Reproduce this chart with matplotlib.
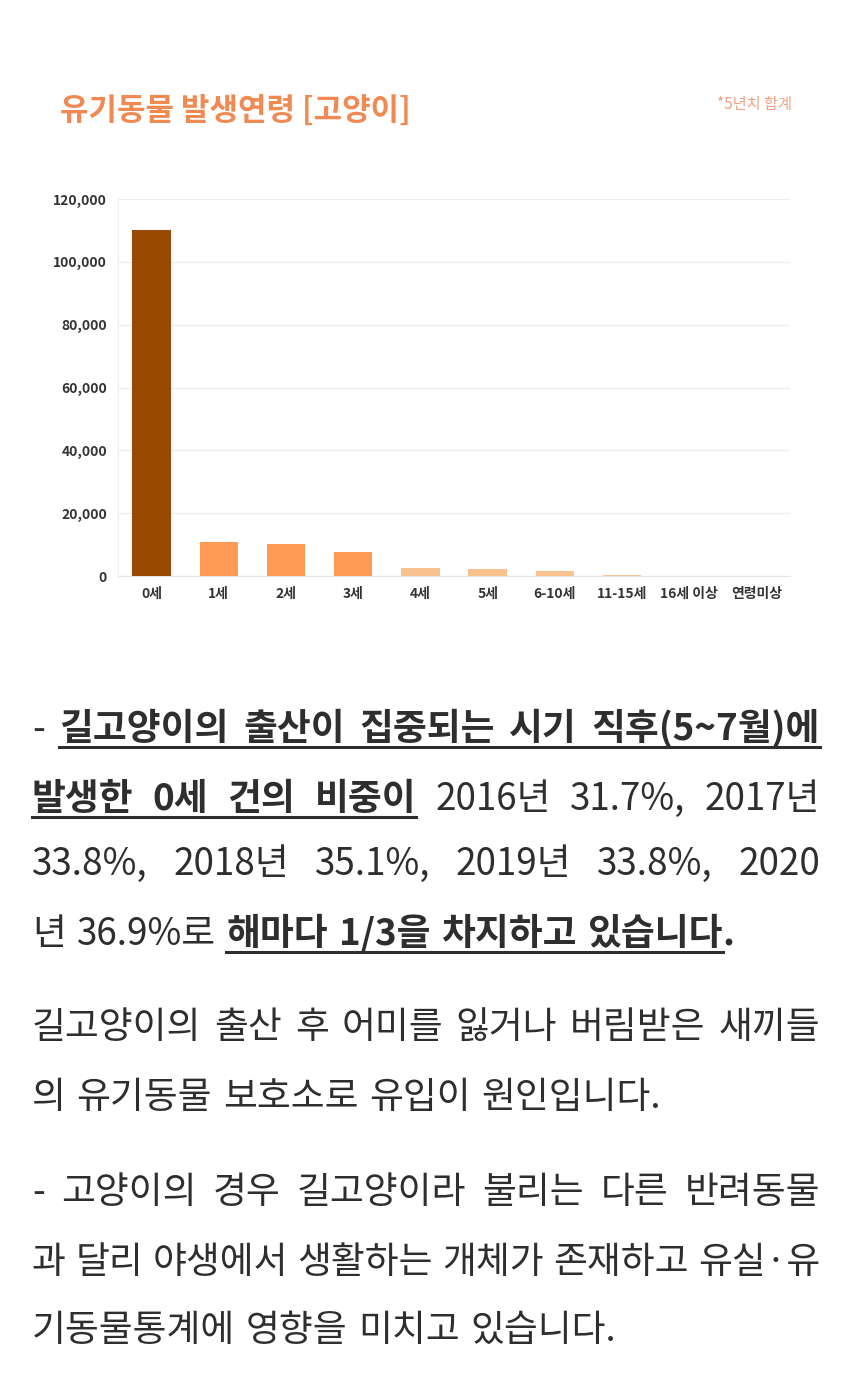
import matplotlib
matplotlib.use("Agg")
import matplotlib.pyplot as plt
from matplotlib.lines import Line2D
from matplotlib.ticker import FuncFormatter

plt.rcParams['font.family'] = ['Noto Sans CJK KR', 'DejaVu Sans']

# ---------------- data ----------------
categories = ['0세', '1세', '2세', '3세', '4세', '5세', '6-10세', '11-15세', '16세 이상', '연령미상']
counts = [110000, 10700, 10200, 7500, 2500, 2200, 1500, 400, 60, 150]
bar_colors = ['#9A4A00', '#FF9A55', '#FF9A55', '#FF9A55',
              '#F9C28F', '#F9C28F', '#F9C28F', '#F9C28F', '#F9C28F', '#F9C28F']
yticks = [0, 20000, 40000, 60000, 80000, 100000, 120000]

title = '유기동물 발생연령 [고양이]'
note = '*5년치 합계'

# body text: each line = list of words; each word = list of pieces (text, bold, underline)
B = (True, True)
N = (False, False)
para_lines = [
    ([[('-',) + N], [('길고양이의',) + B], [('출산이',) + B], [('집중되는',) + B],
      [('시기',) + B], [('직후(5~7월)에',) + B]], True),
    ([[('발생한',) + B], [('0세',) + B], [('건의',) + B], [('비중이',) + B],
      [('2016년',) + N], [('31.7%,',) + N], [('2017년',) + N]], True),
    ([[('33.8%,',) + N], [('2018년',) + N], [('35.1%,',) + N], [('2019년',) + N],
      [('33.8%,',) + N], [('2020',) + N]], True),
    ([[('년',) + N], [('36.9%로',) + N], [('해마다',) + B], [('1/3을',) + B],
      [('차지하고',) + B], [('있습니다',) + B, ('.', True, False)]], False),
    ([[(w,) + N] for w in '길고양이의 출산 후 어미를 잃거나 버림받은 새끼들'.split()], True),
    ([[(w,) + N] for w in '의 유기동물 보호소로 유입이 원인입니다.'.split()], False),
    ([[(w,) + N] for w in '- 고양이의 경우 길고양이라 불리는 다른 반려동물'.split()], True),
    ([[(w,) + N] for w in '과 달리 야생에서 생활하는 개체가 존재하고 유실·유'.split()], True),
    ([[(w,) + N] for w in '기동물통계에 영향을 미치고 있습니다.'.split()], False),
]
line_centers = [727, 797, 862, 932, 1025, 1095, 1190, 1260, 1328]

# ---------------- figure ----------------
W, H = 850, 1377
fig = plt.figure(figsize=(W / 100, H / 100), dpi=100)
fig.patch.set_facecolor('white')

def fx(px):
    return px / W

def fy(py):
    return 1 - py / H

# title and note
fig.text(fx(60), fy(111), title, fontsize=22.3, color='#EE8A52', fontweight='bold',
         va='center', ha='left')
fig.text(fx(792), fy(104), note, fontsize=11, color='#F2A184', va='center', ha='right')

# chart
ax = fig.add_axes([fx(118), fy(576), fx(790) - fx(118), fy(199) - fy(576)])
x = list(range(len(categories)))
ax.bar(x, counts, width=0.57, color=bar_colors, zorder=3)
ax.set_xlim(-0.5, len(categories) - 0.5)
ax.set_ylim(0, 120000)
ax.set_yticks(yticks)
ax.yaxis.set_major_formatter(FuncFormatter(lambda v, p: f'{int(v):,}'))
ax.set_xticks(x)
ax.set_xticklabels(categories)
ax.grid(axis='y', color='#EDEDED', linewidth=0.9, zorder=0)
for s in ['top', 'right']:
    ax.spines[s].set_visible(False)
ax.spines['left'].set_color('#F0F0F0')
ax.spines['bottom'].set_color('#E6E6E6')
ax.tick_params(axis='both', length=0, labelsize=10, colors='#333333')
ax.tick_params(axis='y', pad=8)
ax.tick_params(axis='x', pad=8)
for lab in ax.get_xticklabels() + ax.get_yticklabels():
    lab.set_fontweight('bold')

# ---------------- body text ----------------
renderer = fig.canvas.get_renderer()
FS = 26.5
TXT = '#2E2E2E'

def measure(s, bold):
    t = fig.text(0, 0, s, fontsize=FS, fontweight='bold' if bold else 'normal')
    w = t.get_window_extent(renderer).width
    t.remove()
    return w

space_w = measure('가 가', False) - measure('가가', False)
left, right = 32, 820

for (words, justify), yc in zip(para_lines, line_centers):
    widths = []
    for word in words:
        widths.append([measure(p[0], p[1]) for p in word])
    totals = [sum(w) for w in widths]
    if justify and len(words) > 1:
        gap = (right - left - sum(totals)) / (len(words) - 1)
    else:
        gap = space_w * 1.3
    xpos = left
    baseline = yc + 13
    ul_start = None
    ul_end = None
    ul_runs = []
    for word, ws in zip(words, widths):
        for (txt, bold, ul), w in zip(word, ws):
            fig.text(fx(xpos), fy(baseline), txt, fontsize=FS,
                     fontweight='bold' if bold else 'normal', color=TXT,
                     va='baseline', ha='left')
            if ul:
                if ul_start is None:
                    ul_start = xpos
                ul_end = xpos + w
            else:
                if ul_start is not None:
                    ul_runs.append((ul_start, ul_end))
                    ul_start = None
            xpos += w
        xpos += gap
    if ul_start is not None:
        ul_runs.append((ul_start, ul_end))
    for a, b in ul_runs:
        fig.add_artist(Line2D([fx(a), fx(b)], [fy(baseline + 7), fy(baseline + 7)],
                              transform=fig.transFigure, color=TXT, linewidth=2.2))

fig.savefig('out.png', dpi=100, facecolor='white')
